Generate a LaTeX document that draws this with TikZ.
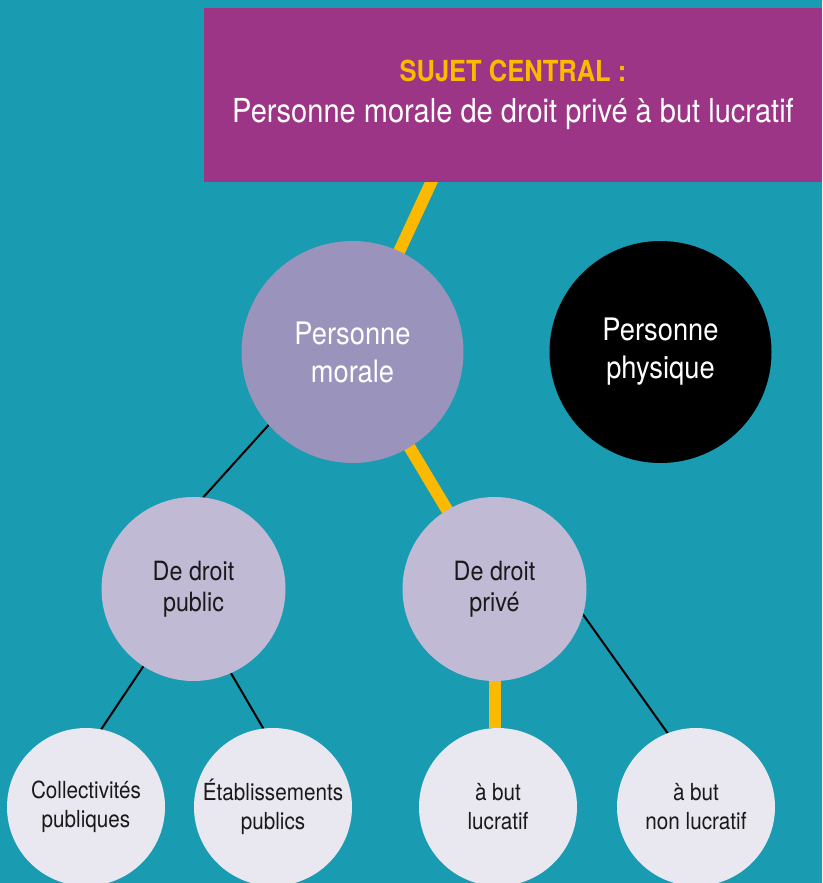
\documentclass[tikz,border=0pt]{standalone}
\usepackage{fontspec}
\setmainfont{TeX Gyre Heros}[FakeStretch=0.88]
\usetikzlibrary{positioning,backgrounds}

\definecolor{bgteal}{HTML}{199BB1}
\definecolor{boxmag}{HTML}{9C3586}
\definecolor{linkyel}{HTML}{FBBA00}
\definecolor{pmviolet}{HTML}{9A93BC}
\definecolor{midlilac}{HTML}{C0BAD5}
\definecolor{leafgray}{HTML}{E9E8F1}

\begin{document}
\begin{tikzpicture}
[x=1pt,y=1pt,
 every node/.style={inner sep=0pt,outer sep=0pt,align=center},
 subj/.style={rectangle,fill=boxmag,minimum width=618pt,minimum height=174pt,text=white,font=\fontsize{33}{41}\selectfont},
 bigc/.style={circle,minimum size=222pt,text=white,font=\fontsize{31}{38}\selectfont},
 midc/.style={circle,fill=midlilac,minimum size=184pt,text=black!90,font=\fontsize{26.5}{31}\selectfont},
 leaf/.style={circle,fill=leafgray,minimum size=158pt,text=black!90,font=\fontsize{23.5}{29}\selectfont},
 gold/.style={draw=linkyel,line width=12pt},
 blk/.style={draw=black,line width=2pt}]
\useasboundingbox (0,0) rectangle (822,-883);

\node[bigc,fill=pmviolet] (pm) at (352.5,-352) {Personne\\morale};
\node[bigc,fill=black]    (pp)   [on grid,right=308pt of pm]                  {Personne\\physique};
\node[subj]               (subj) [on grid,above right=257pt and 160.5pt of pm] {{\fontsize{29}{41}\selectfont\bfseries\color{linkyel}SUJET CENTRAL :}\\Personne morale de droit privé à but lucratif};
\node[midc] (dpub)  [on grid,below  left=237pt and 159pt of pm]     {De droit\\public};
\node[midc] (dpriv) [on grid,below right=237pt and 142pt of pm]     {De droit\\privé};
\node[leaf] (coll)  [on grid,below  left=218pt and 107.5pt of dpub]  {Collectivités\\publiques};
\node[leaf] (etab)  [on grid,below right=218pt and 79.5pt of dpub]   {Établissements\\publics};
\node[leaf] (lucr)  [on grid,below right=218pt and 3.5pt of dpriv]   {à but\\lucratif};
\node[leaf] (nonl)  [on grid,below right=218pt and 201.5pt of dpriv] {à but\\non lucratif};

\coordinate (jn) at ([xshift=-77pt,yshift=10pt]subj.south);

\begin{pgfonlayer}{background}
\fill[bgteal] (0,0) rectangle (822,-883);
% path of the central subject in yellow
\path[gold] (jn) edge (pm.center);
\path[gold] (pm.center) edge (dpriv.center);
\path[gold] (dpriv.center) edge (dpriv.center |- lucr.north);
\path[blk]  (pm.221)    edge (dpub.84);
\path[blk]  (dpub.237)  edge (coll.79);
\path[blk]  (dpub.294)  edge (etab.97);
\path[blk]  (dpriv.344) edge (nonl.111);
\end{pgfonlayer}
\end{tikzpicture}
\end{document}
